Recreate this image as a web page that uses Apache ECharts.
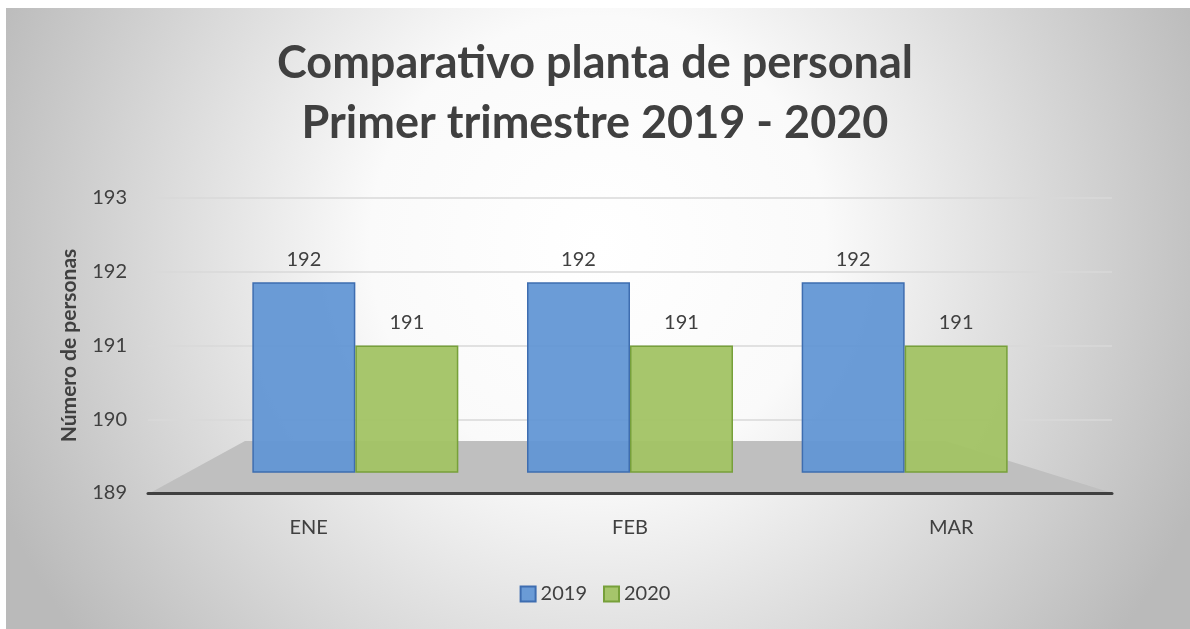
<!DOCTYPE html>
<html>
<head>
<meta charset="utf-8">
<script src="https://cdn.jsdelivr.net/npm/echarts@6/dist/echarts.min.js"></script>
<style>
html,body{margin:0;padding:0;background:#fff;}
#c{width:1190px;height:629px;}
</style>
</head>
<body>
<div id="c"></div>
<script>
const categories = ['ENE', 'FEB', 'MAR'];
const series2019 = [192, 192, 192];
const series2020 = [191, 191, 191];
const yTicks = [189, 190, 191, 192, 193];
const titleLines = ['Comparativo planta de personal', 'Primer trimestre 2019 - 2020'];
const yAxisName = 'Número de personas';
const legendNames = ['2019', '2020'];

const chart = echarts.init(document.getElementById('c'));
const FONT = 'Lato, "Open Sans", sans-serif';

const option = {
  animation: false,
  backgroundColor: 'transparent',
  textStyle: { fontFamily: FONT },
  title: {
    text: titleLines.join('\n'),
    left: 'center',
    top: 28,
    textStyle: { fontFamily: FONT, fontSize: 45, fontWeight: 'bold', color: '#404040', lineHeight: 60 }
  },
  legend: {
    data: legendNames,
    bottom: 20,
    left: 'center',
    icon: 'rect',
    itemWidth: 15,
    itemHeight: 15,
    itemGap: 16,
    textStyle: { fontFamily: FONT, fontSize: 20, color: '#404040' }
  },
  graphic: [
    {
      type: 'rect', z: -10, silent: true,
      shape: { x: 6, y: 8, width: 1184, height: 621 },
      style: {
        fill: new echarts.graphic.RadialGradient(0.5, 0.38, 1.05, [
          { offset: 0, color: '#ffffff' },
          { offset: 0.35, color: '#fafafa' },
          { offset: 1, color: '#bababa' }
        ])
      }
    },
    {
      type: 'polygon', z: -5, silent: true,
      shape: { points: [[150, 493], [1112, 493], [945, 441], [245, 441]] },
      style: { fill: '#bfbfbf' }
    }
  ],
  grid: [
    { left: 148, right: 78, top: 198, bottom: 136 },
    { left: 218, right: 148, top: 219, bottom: 157 }
  ],
  xAxis: [
    {
      gridIndex: 0, type: 'category', data: categories,
      axisLine: { lineStyle: { color: '#404040', width: 3 } },
      axisTick: { show: false },
      axisLabel: { fontFamily: FONT, fontSize: 20, color: '#404040', margin: 25 }
    },
    {
      gridIndex: 1, type: 'category', data: categories, show: false
    }
  ],
  yAxis: [
    {
      gridIndex: 0, type: 'value', min: yTicks[0], max: yTicks[yTicks.length - 1], interval: 1,
      name: yAxisName, nameLocation: 'middle', nameGap: 68,
      nameTextStyle: { fontFamily: FONT, fontSize: 21, fontWeight: 'bold', color: '#404040' },
      axisLine: { show: false }, axisTick: { show: false },
      axisLabel: { fontFamily: FONT, fontSize: 20, color: '#404040', margin: 21 },
      splitLine: { lineStyle: { color: '#d9d9d9', width: 1.5 } }
    },
    {
      gridIndex: 1, type: 'value', min: yTicks[0], max: yTicks[yTicks.length - 1], show: false,
      splitLine: { show: false }
    }
  ],
  series: [
    {
      name: legendNames[0], type: 'bar', xAxisIndex: 1, yAxisIndex: 1,
      data: series2019, barWidth: 103, barGap: '0%',
      itemStyle: { color: 'rgba(96,148,212,0.93)', borderColor: '#3e6db0', borderWidth: 1.5 },
      label: { show: true, position: 'top', distance: 13, fontFamily: FONT, fontSize: 20, color: '#404040' }
    },
    {
      name: legendNames[1], type: 'bar', xAxisIndex: 1, yAxisIndex: 1,
      data: series2020, barWidth: 103,
      itemStyle: { color: 'rgba(162,195,100,0.95)', borderColor: '#77a03a', borderWidth: 1.5 },
      label: { show: true, position: 'top', distance: 13, fontFamily: FONT, fontSize: 20, color: '#404040' }
    }
  ]
};
chart.setOption(option);
</script>
</body>
</html>
